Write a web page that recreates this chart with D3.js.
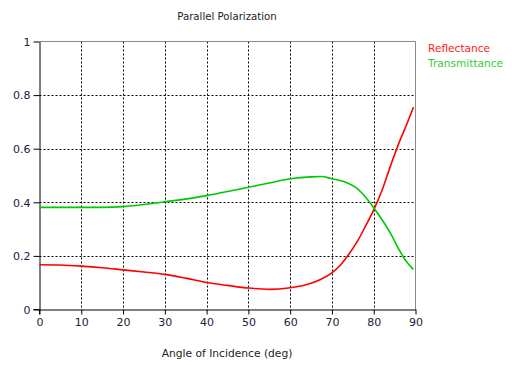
<!DOCTYPE html>
<html><head><meta charset="utf-8">
<script src="https://cdn.jsdelivr.net/npm/d3@7"></script>
<style>
body{margin:0;background:#fff;}
svg{display:block;}
text{font-family:"DejaVu Sans",sans-serif;}
</style></head>
<body>
<svg id="c" width="512" height="365"></svg>
<script>
const angles        = [0,5,10,15,20,25,30,35,40,45,50,55,60,65,67.5,70,72,74,76,78,80,82,84,86,88,89.5];
const reflectance   = [0.167,0.166,0.162,0.156,0.148,0.140,0.131,0.117,0.101,0.090,0.080,0.075,0.081,0.098,0.114,0.137,0.165,0.205,0.252,0.310,0.372,0.445,0.535,0.620,0.695,0.755];
const transmittance = [0.381,0.381,0.381,0.381,0.384,0.392,0.402,0.412,0.425,0.440,0.456,0.472,0.488,0.495,0.496,0.488,0.481,0.470,0.452,0.420,0.380,0.335,0.285,0.225,0.175,0.150];
const xTicks = [0,10,20,30,40,50,60,70,80,90];
const yTicks = [0,0.2,0.4,0.6,0.8,1];
const yTickLabels = ["0","0.2","0.4","0.6","0.8","1"];
const title = "Parallel Polarization";
const xLabel = "Angle of Incidence (deg)";
const seriesNames = ["Reflectance","Transmittance"];
const seriesColors = ["#ff0000","#00c800"];
const legendColors = ["#ff2020","#33cc33"];

const svg = d3.select("#c");
const L=39.5, R=415.5, T=41.5, B=309.5;
const x = d3.scaleLinear().domain([0,90]).range([L,R]);
const y = d3.scaleLinear().domain([0,1]).range([B,T]);

// grid
const g = svg.append("g");
g.selectAll(".vg").data(xTicks.filter(d=>d>0&&d<90)).enter().append("line")
  .attr("x1",d=>Math.round(x(d))+0.5).attr("x2",d=>Math.round(x(d))+0.5)
  .attr("y1",T).attr("y2",B)
  .attr("stroke","#000").attr("stroke-width",1).attr("stroke-dasharray","2,2");
g.selectAll(".hg").data(yTicks.filter(d=>d>0&&d<1)).enter().append("line")
  .attr("y1",d=>Math.round(y(d))+0.5).attr("y2",d=>Math.round(y(d))+0.5)
  .attr("x1",L).attr("x2",R)
  .attr("stroke","#000").attr("stroke-width",1).attr("stroke-dasharray","2,2");

// borders
svg.append("line").attr("x1",L).attr("x2",R).attr("y1",T).attr("y2",T).attr("stroke","#8a8a8a");
svg.append("line").attr("x1",R).attr("x2",R).attr("y1",T).attr("y2",B).attr("stroke","#8a8a8a");

// axes
const xAxis = d3.axisBottom(x).tickValues(xTicks).tickSize(5).tickSizeOuter(0).tickFormat(d3.format("d"));
const yAxis = d3.axisLeft(y).tickValues(yTicks).tickSize(6).tickSizeOuter(0).tickFormat((d,i)=>yTickLabels[i]);
const xa = svg.append("g").attr("transform",`translate(0,${B})`).call(xAxis);
const ya = svg.append("g").attr("transform",`translate(${L},0)`).call(yAxis);
[xa,ya].forEach(a=>{
  a.select(".domain").attr("stroke","#000");
  a.selectAll(".tick line").attr("stroke","#000");
  a.selectAll("text").attr("fill","#202040").style("font-size","11px").style("font-family","'DejaVu Sans',sans-serif");
});
xa.selectAll("text").attr("dy","0.95em").attr("y",6);
ya.selectAll("text").attr("x",-9).attr("dy","0.35em");
svg.append("line").attr("x1",L-6).attr("x2",L).attr("y1",B).attr("y2",B).attr("stroke","#000");
svg.append("line").attr("x1",L).attr("x2",L).attr("y1",B).attr("y2",B+5).attr("stroke","#000");

// lines
const line = d3.line().x((d,i)=>x(angles[i])).y(d=>y(d)).curve(d3.curveMonotoneX);
[reflectance,transmittance].forEach((s,k)=>{
  svg.append("path").datum(s).attr("d",line).attr("fill","none")
    .attr("stroke",seriesColors[k]).attr("stroke-width",1.6);
});

// title & axis label
svg.append("text").attr("x",227).attr("y",20).attr("text-anchor","middle")
  .style("font-size","10.2px").attr("fill","#222").text(title);
svg.append("text").attr("x",227).attr("y",357).attr("text-anchor","middle")
  .style("font-size","10.7px").attr("fill","#222").text(xLabel);

// legend
seriesNames.forEach((n,k)=>{
  svg.append("text").attr("x",428).attr("y",52+k*15).style("font-size","10.6px")
    .attr("fill",legendColors[k]).text(n);
});
</script>
</body></html>
